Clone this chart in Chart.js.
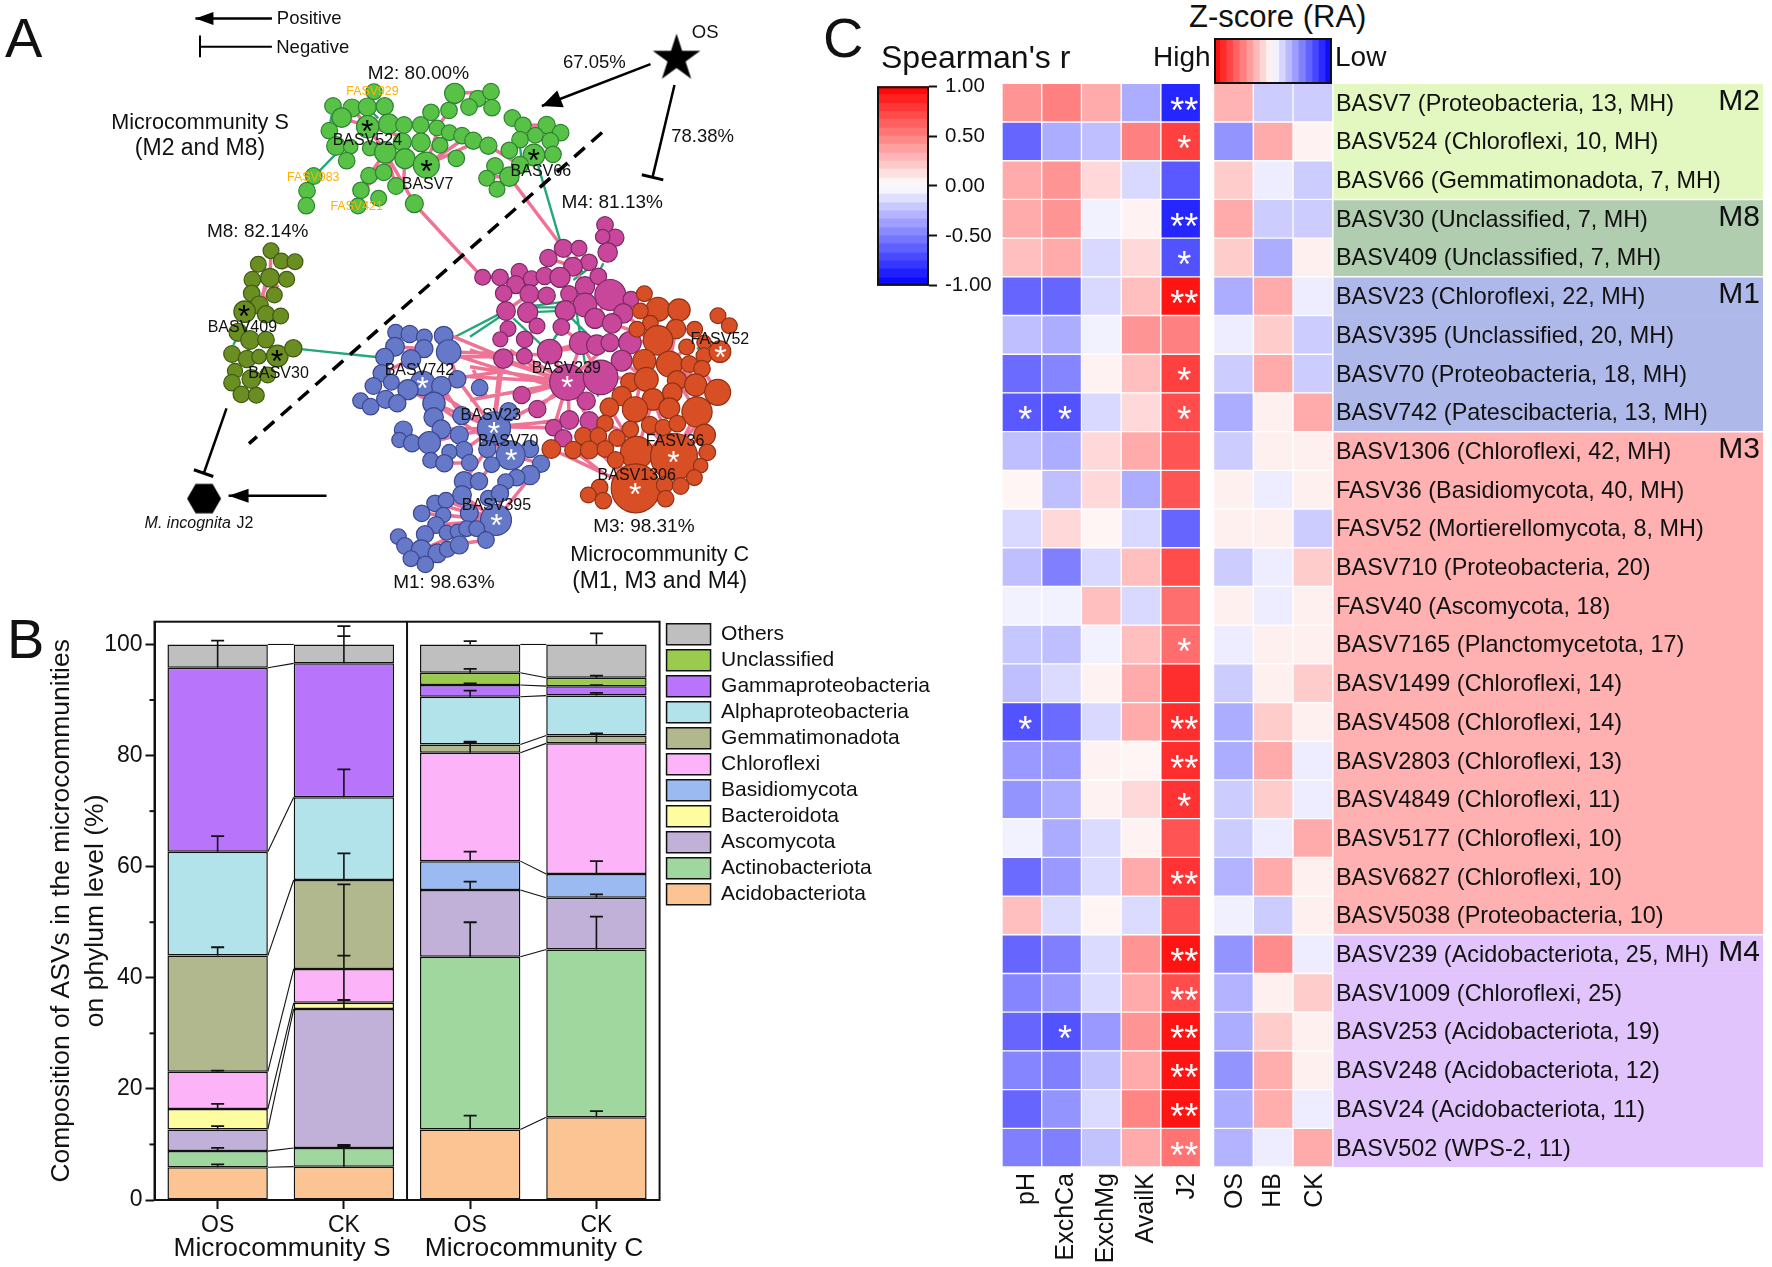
<!DOCTYPE html>
<html lang="en">
<head>
<meta charset="UTF-8">
<title>Microcommunities network, composition and heatmap</title>
<script src="https://cdn.jsdelivr.net/npm/chart.js"></script>
<style>
  html, body { margin: 0; padding: 0; background: #fff; }
  #page { position: relative; width: 1772px; height: 1267px; overflow: hidden; font-family: "Liberation Sans", Arial, sans-serif; color: #111; }
  #page canvas { position: absolute; }
  .txt { position: absolute; line-height: 1; white-space: nowrap; }
</style>
</head>
<body>
<div id="page">
  <canvas id="netChart" width="800" height="620" style="left:0px;top:0px"></canvas>
  <canvas id="barChart" width="950" height="667" style="left:0px;top:600px"></canvas>
  <canvas id="heatChart" width="761" height="1187" style="left:1002px;top:80px"></canvas>
  <canvas id="rBar" width="130" height="240" style="left:877px;top:66px"></canvas>
  <canvas id="zBar" width="118" height="46" style="left:1214px;top:38px"></canvas>
  <div class="txt" style="left:5px;top:10px;font-size:56px">A</div>
  <div class="txt" style="left:7px;top:611px;font-size:56px">B</div>
  <div class="txt" style="left:823px;top:10px;font-size:56px">C</div>
  <div class="txt" style="left:881px;top:41px;font-size:32px">Spearman's r</div>
  <div class="txt" style="left:1189px;top:1px;font-size:31px">Z-score (RA)</div>
  <div class="txt" style="left:1153px;top:43px;font-size:28px">High</div>
  <div class="txt" style="left:1335px;top:43px;font-size:28px">Low</div>
</div>

<script>
Chart.defaults.font.family = '"Liberation Sans", Arial, sans-serif';
Chart.defaults.color = '#111';
Chart.defaults.animation = false;
Chart.defaults.plugins.tooltip.enabled = false;

// ---- panel B data
const barIds = ['S-OS', 'S-CK', 'C-OS', 'C-CK'];
const barLabels = ['OS', 'CK', 'OS', 'CK'];
const others = [4.2, 3.4, 5.1, 6.0];
const unclassified = [0, 0, 2.2, 1.5];
const gamma = [33.1, 24.1, 2.1, 1.7];
const alpha = [18.7, 14.9, 8.6, 7.2];
const gemma = [20.9, 16.0, 1.5, 1.4];
const chloroflexi = [6.7, 6.1, 19.5, 23.5];
const basidio = [0, 0, 5.2, 4.3];
const bacteroid = [3.7, 1.1, 0, 0];
const ascomycota = [3.9, 25.05, 12.0, 9.3];
const actino = [2.9, 3.35, 31.1, 30.2];
const acido = [5.9, 6.0, 12.7, 14.9];
// whiskers per bar: [from, to]
const whiskers = [
  [[5.9, 6.4], [8.8, 9.4], [12.7, 13.3], [16.4, 17.3], [23.1, 23.3], [44, 45.5], [62.7, 65.5], [95.8, 100.7]],
  [[6, 9.9], [9.35, 9.7], [34.4, 36], [35.5, 44], [41.6, 56.8], [57.6, 62.4], [72.5, 77.5], [96.6, 101.5], [96.6, 103.3]],
  [[12.7, 15.2], [43.8, 50], [55.8, 57.3], [61, 62.7], [80.5, 82.3], [82, 82.5], [90.6, 91.7], [92.7, 93], [94.9, 95.6], [100, 100.6]],
  [[14.9, 16], [45.1, 51], [54.4, 55], [58.7, 61], [82.2, 84], [90.8, 91.3], [92.5, 92.7], [94, 94.4], [100, 102]]
];

// ---- panel C data
const rowNames = ['BASV7 (Proteobacteria, 13, MH)', 'BASV524 (Chloroflexi, 10, MH)', 'BASV66 (Gemmatimonadota, 7, MH)',
  'BASV30 (Unclassified, 7, MH)', 'BASV409 (Unclassified, 7, MH)', 'BASV23 (Chloroflexi, 22, MH)',
  'BASV395 (Unclassified, 20, MH)', 'BASV70 (Proteobacteria, 18, MH)', 'BASV742 (Patescibacteria, 13, MH)',
  'BASV1306 (Chloroflexi, 42, MH)', 'FASV36 (Basidiomycota, 40, MH)', 'FASV52 (Mortierellomycota, 8, MH)',
  'BASV710 (Proteobacteria, 20)', 'FASV40 (Ascomycota, 18)', 'BASV7165 (Planctomycetota, 17)',
  'BASV1499 (Chloroflexi, 14)', 'BASV4508 (Chloroflexi, 14)', 'BASV2803 (Chloroflexi, 13)',
  'BASV4849 (Chloroflexi, 11)', 'BASV5177 (Chloroflexi, 10)', 'BASV6827 (Chloroflexi, 10)',
  'BASV5038 (Proteobacteria, 10)', 'BASV239 (Acidobacteriota, 25, MH)', 'BASV1009 (Chloroflexi, 25)',
  'BASV253 (Acidobacteriota, 19)', 'BASV248 (Acidobacteriota, 12)', 'BASV24 (Acidobacteriota, 11)', 'BASV502 (WPS-2, 11)'];
const pH = [.42, -.6, .33, .33, .25, -.6, -.25, -.58, -.65, -.25, .04, -.15, -.25, -.05, -.22, -.25, -.68, -.4, -.42, -.05, -.58, .25, -.6, -.48, -.6, -.48, -.6, -.5];
const exchCa = [.5, -.32, .42, .42, .33, -.6, -.32, -.48, -.68, -.32, -.25, .15, -.5, -.05, -.25, -.14, -.58, -.4, -.33, -.33, -.4, -.14, -.5, -.4, -.68, -.5, -.42, -.5];
const exchMg = [.33, -.25, .15, -.05, -.15, -.15, -.05, .05, -.15, .15, .15, .04, -.15, .25, -.05, .05, -.15, .05, .05, -.14, -.14, .04, -.14, -.14, -.4, -.24, -.14, -.24];
const availK = [-.32, .5, -.15, .05, .15, .25, .42, .25, .15, .33, -.32, -.15, .25, -.15, .25, .33, .33, .04, .15, .05, .33, -.14, .42, .33, .42, .33, .48, .33];
const j2 = [-.85, .75, -.65, -.85, -.68, .92, .5, .75, .7, .67, .67, -.6, .7, .57, .57, .82, .82, .82, .8, .67, .8, .67, .92, .7, .92, .92, .92, .55];
const zOS = [.3, -.42, .2, .33, .2, -.32, -.07, -.2, -.32, -.2, .06, .06, -.2, .06, -.07, -.2, -.32, -.32, -.2, -.2, -.3, -.06, -.42, -.3, -.32, -.42, -.32, -.3];
const zHB = [-.2, .33, -.07, -.2, -.32, .33, .2, .33, .06, .06, -.07, .06, -.07, -.07, .06, .06, .2, .33, .2, -.07, .33, -.2, .45, .06, .2, .32, .32, -.07];
const zCK = [-.2, .05, -.2, -.2, .06, -.07, -.2, -.2, .33, .06, .06, -.2, .2, .06, .06, .2, .06, -.07, -.07, .33, .06, .06, -.07, .2, .06, .06, -.07, .33];
const sigPH = {8: '*', 16: '*'};
const sigCa = {8: '*', 24: '*'};
const sigJ2 = {0: '**', 1: '*', 3: '**', 4: '*', 5: '**', 7: '*', 8: '*', 14: '*', 16: '**', 17: '**', 18: '*', 20: '**', 22: '**', 23: '**', 24: '**', 25: '**', 26: '**', 27: '**'};
const heatCols = ['pH', 'ExchCa', 'ExchMg', 'AvailK', 'J2', 'OS', 'HB', 'CK'];
const modules = [['M2', 0, 3, '#e3f7c0'], ['M8', 3, 5, '#b0cdb0'], ['M1', 5, 9, '#afb9e9'], ['M3', 9, 22, '#ffb0b0'], ['M4', 22, 28, '#e0c4fb']];
const rBreaks = [-1, -.92, -.83, -.75, -.67, -.58, -.5, -.42, -.33, -.25, -.17, -.08, 0, .08, .17, .25, .33, .42, .5, .58, .67, .75, .83, .92, 1];
const zBreaks = [-1, -.89, -.78, -.67, -.56, -.44, -.33, -.22, -.11, 0, .11, .22, .33, .44, .56, .67, .78, .89, 1];

const m2Raw = [[252,35,22],[129,78,23],[186,84,25],[232,81,25],[284,79,24],[155,113,27],[118,152,23],[233,140,31],[296,132,28],[342,135,23],[392,135,23],[423,97,23],[477,91,23],[494,40,28],[563,56,23],[603,35,23],[537,81,23],[606,83,23],[441,144,22],[478,158,22],[516,167,23],[550,182,24],[595,197,24],[393,187,26],[337,186,25],[138,198,26],[182,200,20],[240,205,21],[170,242,23],[286,217,30],[345,236,28],[409,255,36],[450,196,22],[499,235,23],[237,287,23],[281,277,23],[318,318,23],[213,331,23],[266,355,22],[204,378,22],[373,371,25],[71,288,23],[51,332,23],[49,377,23],[667,114,23],[699,136,23],[770,135,24],[812,158,23],[736,166,22],[690,179,23],[781,183,23],[658,211,23],[732,225,30],[789,223,23],[690,255,24],[615,258,23],[590,295,22],[658,290,27],[621,328,22]];
const m2Pink = [[286,217,373,371],[286,217,318,318],[345,236,409,255],[345,236,340,320],[409,255,516,180],[409,255,550,190],[409,255,440,160],[409,255,393,187],[286,217,233,140],[337,186,286,217],[233,140,340,170],[237,287,286,217],[213,331,281,277],[494,40,603,35],[563,56,537,81],[595,197,690,255],[700,136,770,135],[612,290,658,290],[690,255,732,225],[155,113,233,140],[129,78,155,113],[186,84,233,140],[478,91,441,144]];
const m2Green = [[690,200,695,240],[125,105,120,135],[250,100,265,115]];
const m8Raw = [[183,47,22],[145,88,22],[214,78,22],[255,80,22],[127,134,23],[180,128,26],[230,133,22],[125,175,23],[193,180,22],[148,210,25],[104,230,30],[168,238,24],[212,243,22],[84,292,25],[120,315,26],[168,314,23],[66,357,23],[111,372,24],[147,365,20],[202,363,30],[250,340,24],[75,408,21],[124,432,26],[66,443,23],[173,420,22],[94,478,23],[139,481,22]];
const m8Pink = [[180,128,150,195],[165,150,155,200],[183,47,180,128],[214,100,240,90],[205,150,165,190],[170,315,202,363],[100,430,124,432]];
const m8Green = [[70,330,80,310],[110,350,118,340]];
const m4Raw = [[405,15,23],[436,53,24],[398,50,20],[413,97,27],[280,85,25],[327,85,22],[235,114,24],[357,127,23],[309,140,26],[38,172,22],[90,172,23],[148,155,23],[184,176,22],[137,194,25],[224,168,24],[270,172,28],[345,199,27],[385,169,23],[421,225,43],[101,220,23],[178,222,26],[230,227,24],[297,222,23],[345,255,33],[483,238,22],[108,273,26],[173,277,28],[286,272,28],[375,295,28],[460,280,27],[426,310,27],[114,326,22],[201,318,22],[274,321,23],[91,358,21],[164,358,23],[333,369,32],[380,375,28],[420,368,25],[480,368,31],[239,395,34],[100,416,27],[163,409,22],[455,422,29],[293,487,50],[392,472,48],[155,525,24],[349,543,25],[202,567,24],[298,600,26],[358,603,26],[251,623,23],[280,655,24]];
const m3Raw = [[523,221,22],[564,268,33],[627,270,31],[511,273,22],[541,310,22],[501,328,22],[618,327,27],[564,361,41],[674,328,22],[744,287,22],[778,317,22],[650,381,22],[702,367,20],[702,407,22],[750,395,30],[523,423,32],[598,432,36],[658,432,23],[696,446,23],[480,487,26],[529,478,33],[621,481,27],[677,495,31],[743,517,36],[455,528,27],[549,538,30],[607,518,27],[418,562,26],[495,568,35],[598,565,29],[681,576,42],[405,610,23],[481,628,23],[540,615,24],[580,623,23],[622,611,23],[704,645,30],[340,648,24],[385,648,23],[441,654,23],[244,687,26],[310,690,24],[358,690,25],[406,687,23],[500,698,45],[612,710,65],[437,720,23],[712,697,23],[692,737,20],[673,773,22],[497,805,68],[584,795,23],[632,798,23],[587,836,23],[389,802,23],[355,825,22],[400,842,23]];
const coreGreen = [[0,350,90,290],[173,260,286,245],[200,262,280,262],[173,277,286,272],[130,295,215,375],[300,290,350,340],[320,280,345,430],[345,430,385,530],[250,360,290,300],[310,180,350,150],[400,130,380,170],[340,160,320,130],[680,385,700,385],[720,420,700,440]];
const corePink = [[293,487,0,390],[293,487,0,440],[293,487,0,470],[293,487,155,525],[293,487,202,567],[293,487,0,540],[100,416,293,487],[163,409,293,487],[90,430,80,520],[239,395,293,487],[333,369,293,487],[420,368,293,487],[455,422,392,472],[480,368,392,472],[298,600,293,487],[358,603,293,487],[251,623,293,487],[349,543,293,487],[75,620,270,520],[75,620,298,600],[75,620,251,623],[244,687,497,805],[310,690,400,760],[212,730,150,810],
  [564,361,523,423],[564,361,598,432],[598,432,677,495],[598,432,743,517],[523,423,495,568],[529,478,612,710],[495,568,612,710],[681,576,612,710],[743,517,612,710],[677,495,681,576],[621,481,681,576],[549,538,500,698],[418,562,500,698],[495,568,497,805],[500,698,497,805],[612,710,497,805],[456,528,612,710],[405,610,612,710],[481,628,500,698],[455,422,529,478],[392,472,495,568],[392,472,529,478],[480,368,564,361],[426,310,564,361],[460,280,564,361],[627,270,564,361],[618,327,598,432],[627,270,598,432],[743,517,598,432],[704,645,612,710],[712,697,612,710],[673,773,612,710],[692,737,612,710],[704,645,681,576],[340,648,497,805],[385,648,500,698],[441,654,612,710],[437,720,497,805],[358,690,437,720],[406,687,497,805],[650,381,598,432],[658,432,681,576],[696,446,743,517],[658,432,598,432],[523,423,480,487],
  [280,85,309,140],[327,85,309,140],[235,114,309,140],[309,140,345,199],[345,255,286,272],[345,255,421,225],[375,295,421,225],[460,280,421,225],[345,255,375,295],[270,172,297,222],[178,222,230,227],[108,273,178,222],[90,172,137,194],[38,172,90,172],[137,194,224,168],[270,172,224,168],[100,220,108,273],[108,273,114,326],[114,326,91,358],[164,358,201,318],[274,321,333,369],[333,369,380,375],[380,375,420,368],[420,368,480,368],[239,395,333,369],[239,395,380,375],[333,369,392,472]];
const m1Raw = [[167,97,22],[209,102,24],[253,111,22],[311,107,26],[165,140,26],[252,146,25],[326,156,34],[134,172,25],[213,178,27],[125,220,24],[248,250,34],[352,238,24],[100,258,23],[154,247,22],[204,269,28],[304,258,27],[419,263,23],[62,302,22],[92,320,23],[137,298,25],[172,310,24],[282,310,31],[281,352,27],[365,347,25],[190,390,25],[304,388,26],[462,385,46],[506,335,25],[178,420,21],[216,430,24],[268,428,31],[358,405,25],[442,447,24],[570,447,24],[372,450,24],[328,456,21],[512,466,40],[272,481,22],[313,490,24],[389,488,23],[455,494,22],[603,491,24],[570,525,27],[530,533,23],[497,545,22],[372,544,27],[417,544,24],[366,585,26],[445,595,22],[480,580,24],[285,610,23],[318,601,22],[388,640,25],[245,640,23],[310,645,21],[468,660,43],[288,675,23],[255,703,24],[175,710,22],[320,698,21],[352,694,20],[380,686,22],[410,686,22],[438,720,23],[195,738,23],[244,750,28],[292,760,26],[322,748,22],[358,735,25],[213,776,22],[256,793,23]];
const m1Pink = [[340,110,490,172],[326,156,625,165],[350,170,490,170],[360,170,640,260],[350,235,480,215],[480,215,465,330],[400,210,440,290],[490,172,462,385],[510,150,650,250],[352,238,462,385],[248,250,462,385],[282,310,462,385],[282,310,512,466],[248,250,282,310],[304,388,462,385],[358,405,462,385],[268,428,358,405],[268,428,216,430],[216,430,178,420],[313,490,389,488],[372,450,462,385],[372,450,389,488],[462,385,660,360],[442,447,372,544],[417,544,455,494],[603,491,468,660],[497,545,468,660],[388,640,468,660],[366,585,468,660],[318,601,468,660],[285,610,468,660],[310,645,468,660],[288,675,468,660],[245,640,468,660],[255,703,468,660],[244,750,358,700],[292,760,410,686],[244,750,438,720],[372,544,366,585],[204,269,248,250],[125,220,213,178],[165,140,252,146],[167,97,209,102],[311,107,326,156],[62,302,92,320],[137,298,172,310],[204,269,282,310],[326,156,352,238],[304,258,365,347],[462,385,512,466],[512,466,603,491]];
// long links between modules, in whole-panel units
const linkPink = [[812,516,946,702],[998,447,1104,628]];
const linkGreen = [[575,881,737,903],[1055,420,1098,610],[880,860,985,790],[615,447,658,390]];
const hubsDark = [[720,320],[836,420],[1046,393],[478,788],[543,902]];
const hubsLight = [[828,968],[1112,967],[1412,890],[968,1084],[1002,1152],[973,1315],[1320,1155],[1245,1238]];
const starMark = [[1326, 148]];
const hexMark = [[400, 1261]];

// crop origin in page pixels -> whole-panel units (panel spans 0..1568 on both axes)
const panelX = 1568 / 800, panelY = 1568 / 620;
const m2At = [290, 80], m8At = [210, 235], coreAt = [470, 220], m1At = [340, 300];
const toNode = (arr, at) => arr.map(n => ({x: (at[0] + n[0] / 3) * panelX, y: (at[1] + n[1] / 3) * panelY, r: n[2] / 3 * 1.08}));
const toSegsAt = (arr, at) => arr.flatMap(e => [
  {x: (at[0] + e[0] / 3) * panelX, y: (at[1] + e[1] / 3) * panelY},
  {x: (at[0] + e[2] / 3) * panelX, y: (at[1] + e[3] / 3) * panelY},
  {x: NaN, y: NaN}]);
const toSegs = arr => arr.flatMap(e => [{x: e[0], y: e[1]}, {x: e[2], y: e[3]}, {x: NaN, y: NaN}]);

function polyMarker(points, outer, inner, rot) {
  const c = document.createElement('canvas');
  c.width = c.height = outer * 2 + 2;
  const g = c.getContext('2d');
  g.translate(outer + 1, outer + 1);
  g.beginPath();
  const n = inner ? points * 2 : points;
  for (let i = 0; i < n; i++) {
    const a = rot + i * Math.PI * 2 / n;
    const r = inner && i % 2 ? inner : outer;
    g.lineTo(r * Math.cos(a), r * Math.sin(a));
  }
  g.closePath();
  g.fillStyle = '#000';
  g.fill();
  return c;
}

const netText = [
  ['Positive', 606, 48, 18.5], ['Negative', 613, 120, 18.5], ['OS', 1382, 84, 18.5],
  ['67.05%', 1165, 158, 18.5], ['78.38%', 1377, 345, 18.5],
  ['M2: 80.00%', 820, 186, 19], ['M4: 81.13%', 1200, 513, 19], ['M8: 82.14%', 505, 585, 19],
  ['M3: 98.31%', 1262, 1333, 19], ['M1: 98.63%', 870, 1474, 19],
  ['Microcommunity S', 392, 310, 21.6], ['(M2 and M8)', 392, 375, 23],
  ['Microcommunity C', 1293, 1404, 21.6], ['(M1, M3 and M4)', 1293, 1470, 23],
  ['BASV524', 720, 355, 16], ['BASV7', 838, 467, 16], ['BASV66', 1060, 435, 16], ['BASV409', 475, 828, 16],
  ['BASV30', 546, 945, 16], ['BASV742', 822, 938, 16], ['BASV239', 1110, 933, 16], ['FASV52', 1411, 858, 16],
  ['BASV23', 962, 1050, 16], ['BASV70', 996, 1116, 16], ['BASV395', 973, 1278, 16], ['FASV36', 1323, 1116, 16],
  ['BASV1306', 1248, 1203, 16],
  ['FASV929', 730, 232, 12.4, '#ffb000'], ['FASV983', 614, 448, 12.4, '#ffb000'], ['FASV421', 699, 522, 12.4, '#ffb000']
];

const netPlugin = {
  id: 'netMarks',
  afterDatasetsDraw(chart) {
    const g = chart.ctx, X = chart.scales.x, Y = chart.scales.y;
    const px = v => X.getPixelForValue(v), py = v => Y.getPixelForValue(v);
    g.save();
    g.strokeStyle = '#000';
    g.fillStyle = '#000';

    function shaft(a, b, c, d, lw) {
      g.lineWidth = lw;
      g.beginPath(); g.moveTo(px(a), py(b)); g.lineTo(px(c), py(d)); g.stroke();
    }
    function arrow(a, b, c, d, len, half) {
      const x1 = px(a), y1 = py(b), x2 = px(c), y2 = py(d);
      const t = Math.atan2(y2 - y1, x2 - x1);
      shaft(a, b, c, d, 2.5);
      g.beginPath();
      g.moveTo(x2, y2);
      g.lineTo(x2 - len * Math.cos(t) + half * Math.sin(t), y2 - len * Math.sin(t) - half * Math.cos(t));
      g.lineTo(x2 - len * Math.cos(t) - half * Math.sin(t), y2 - len * Math.sin(t) + half * Math.cos(t));
      g.closePath(); g.fill();
    }
    arrow(533, 47, 383, 47, 18, 6.5);
    shaft(533, 118, 392, 118, 2); shaft(392, 90, 392, 145, 2);
    arrow(1275, 162, 1062, 268, 20, 9);
    shaft(1322, 215, 1279, 448, 2.5); shaft(1258, 442, 1300, 455, 3);
    shaft(444, 1033, 400, 1195, 2.5); shaft(380, 1188, 418, 1205, 3);
    arrow(640, 1254, 448, 1254, 20, 7);

    g.setLineDash([14, 9]);
    shaft(1180, 335, 488, 1122, 3.5);
    g.setLineDash([]);

    g.textAlign = 'center';
    g.textBaseline = 'middle';
    g.font = '32px "Liberation Sans"';
    hubsDark.forEach(h => g.fillText('*', px(h[0]), py(h[1]) + 7));
    g.fillStyle = '#fff';
    hubsLight.forEach(h => g.fillText('*', px(h[0]), py(h[1]) + 7));

    g.fillStyle = '#111';
    netText.forEach(t => {
      g.font = t[3] + 'px "Liberation Sans"';
      g.fillStyle = t[4] || '#111';
      g.fillText(t[0], px(t[1]), py(t[2]));
    });
    g.fillStyle = '#111';
    g.font = 'italic 16px "Liberation Sans"';
    g.fillText('M. incognita', px(368), py(1323));
    g.font = '16px "Liberation Sans"';
    g.fillText('J2', px(480), py(1323));
    g.restore();
  }
};

function nodeSet(data, fill, edge) {
  return {type: 'bubble', data, backgroundColor: fill, borderColor: edge, borderWidth: 1.2, order: 1};
}
function edgeSet(data, color, w) {
  return {type: 'scatter', data, showLine: true, spanGaps: false, borderColor: color, borderWidth: w, pointRadius: 0, order: 5};
}
function markSet(arr, style) {
  return {type: 'scatter', data: arr.map(p => ({x: p[0], y: p[1]})), pointStyle: style, pointRadius: 20, order: 0};
}

new Chart(document.getElementById('netChart'), {
  type: 'bubble',
  data: {datasets: [
    nodeSet(toNode(m2Raw, m2At), '#58c247', '#2e8233'),
    nodeSet(toNode(m8Raw, m8At), '#6b8e23', '#3f5a14'),
    nodeSet(toNode(m3Raw, coreAt), '#d94f25', '#8f3216'),
    nodeSet(toNode(m4Raw, coreAt), '#c9479a', '#7a2a66'),
    nodeSet(toNode(m1Raw, m1At), '#6678c8', '#3b4790'),
    edgeSet(toSegsAt(m2Pink, m2At).concat(toSegsAt(m8Pink, m8At), toSegsAt(corePink, coreAt), toSegsAt(m1Pink, m1At), toSegs(linkPink)), '#ef7394', 3.5),
    edgeSet(toSegsAt(m2Green, m2At).concat(toSegsAt(m8Green, m8At), toSegsAt(coreGreen, coreAt), toSegs(linkGreen)), '#25a878', 2.4),
    markSet(starMark, polyMarker(5, 25, 9.5, -Math.PI / 2)),
    markSet(hexMark, polyMarker(6, 17, 0, 0))
  ]},
  options: {
    responsive: false,
    layout: {padding: 0, autoPadding: false},
    plugins: {legend: {display: false}},
    scales: {
      x: {type: 'linear', display: false, min: 0, max: 1568},
      y: {type: 'linear', display: false, min: 0, max: 1568, reverse: true}
    }
  },
  plugins: [netPlugin]
});

// ---- panel B
const stackNames = ['Acidobacteriota', 'Actinobacteriota', 'Ascomycota', 'Bacteroidota', 'Basidiomycota', 'Chloroflexi', 'Gemmatimonadota', 'Alphaproteobacteria', 'Gammaproteobacteria', 'Unclassified', 'Others'];
const stackValues = [acido, actino, ascomycota, bacteroid, basidio, chloroflexi, gemma, alpha, gamma, unclassified, others];
const stackColors = ['#fdc493', '#a0d79f', '#c1b1d8', '#fdfd9f', '#9bbaf2', '#fdb3f8', '#b2b88e', '#b2e3ea', '#b874fb', '#9acb4c', '#bfbfbf'];

const whiskerPts = whiskers.flatMap((list, i) => list.flatMap(w => [{x: barIds[i], y: w[0]}, {x: barIds[i], y: w[1], cap: true}, {x: barIds[i], y: NaN}]));

const barPlugin = {
  id: 'barExtras',
  afterLayout(chart) {
    chart.legend.top -= 3;
    chart.legend.left += 2;
  },
  afterDatasetsDraw(chart) {
    const g = chart.ctx, X = chart.scales.x, Y = chart.scales.y, A = chart.chartArea;
    g.save();
    // connecting lines between the paired bars
    g.strokeStyle = '#111';
    g.lineWidth = 1.1;
    [[0, 1], [2, 3]].forEach(pair => {
      const cum = [0, 0];
      stackValues.forEach((vals, d) => {
        cum[0] += vals[pair[0]]; cum[1] += vals[pair[1]];
        if (!vals[pair[0]] && !vals[pair[1]]) return;
        const m = chart.getDatasetMeta(d);
        const a = m.data[pair[0]], b = m.data[pair[1]];
        g.beginPath();
        g.moveTo(a.x + a.width / 2, Y.getPixelForValue(cum[0]));
        g.lineTo(b.x - b.width / 2, Y.getPixelForValue(cum[1]));
        g.stroke();
      });
    });
    // frame and divider
    g.lineWidth = 2;
    g.strokeRect(A.left, A.top, A.right - A.left, A.bottom - A.top);
    const mid = X.getPixelForValue(1.5);
    g.beginPath(); g.moveTo(mid, A.top); g.lineTo(mid, A.bottom); g.stroke();
    // minor ticks
    [10, 30, 50, 70, 90].forEach(v => {
      const y = Y.getPixelForValue(v);
      g.beginPath(); g.moveTo(A.left, y); g.lineTo(A.left - 5, y); g.stroke();
    });
    g.fillStyle = '#111';
    g.font = '26.4px "Liberation Sans"';
    g.textAlign = 'center';
    g.textBaseline = 'middle';
    g.fillText('Microcommunity S', 282, 1249 - 600);
    g.fillText('Microcommunity C', 534, 1249 - 600);
    g.restore();
  }
};

new Chart(document.getElementById('barChart'), {
  type: 'bar',
  data: {
    labels: barIds,
    datasets: stackNames.map((name, i) => ({
      label: name,
      data: stackValues[i],
      backgroundColor: stackColors[i],
      borderColor: '#111',
      borderWidth: 1.5,
      borderSkipped: false,
      barPercentage: 0.795,
      categoryPercentage: 1,
      order: 2
    })).concat([{
      type: 'line',
      label: 'err',
      data: whiskerPts,
      yAxisID: 'ye',
      showLine: true,
      spanGaps: false,
      borderColor: '#111',
      borderWidth: 1.6,
      pointStyle: 'line',
      pointBorderColor: '#111',
      pointBorderWidth: 1.8,
      pointRadius: c => (c.raw && c.raw.cap ? 6.5 : 0),
      order: 1
    }])
  },
  options: {
    responsive: false,
    layout: {padding: {top: 21.7, right: 12, left: 0, bottom: 0}},
    plugins: {
      legend: {
        position: 'right',
        align: 'start',
        reverse: true,
        maxWidth: 300,
        labels: {
          boxWidth: 44, boxHeight: 21, padding: 5, color: '#111',
          font: {size: 21},
          filter: item => item.text !== 'err'
        }
      }
    },
    scales: {
      x: {
        stacked: true,
        grid: {display: true, drawOnChartArea: false, drawTicks: true, tickLength: 9, tickColor: '#111', tickWidth: 2, offset: false},
        border: {color: '#111', width: 2},
        ticks: {color: '#111', font: {size: 23}, padding: 3, maxRotation: 0, callback: (v, i) => barLabels[i]},
        afterFit: s => { s.height = 67; }
      },
      y: {
        stacked: true,
        min: 0,
        max: 104.1,
        grid: {display: true, drawOnChartArea: false, tickLength: 9, tickColor: '#111', tickWidth: 2},
        border: {color: '#111', width: 2},
        ticks: {color: '#111', stepSize: 20, includeBounds: false, font: {size: 23}, padding: 3},
        title: {
          display: true,
          text: ['Composition of ASVs in the microcommunities', 'on phylum level (%)'],
          font: {size: 26.5, lineHeight: 1.283},
          color: '#111',
          padding: {top: 45, bottom: 0}
        },
        afterFit: s => { s.width = 154.5; }
      },
      ye: {type: 'linear', display: false, min: 0, max: 104.1}
    }
  },
  plugins: [barPlugin]
});

// ---- panel C
function divColor(v) {
  const t = Math.min(1, Math.abs(v));
  const c = Math.round(255 * (1 - t));
  return v >= 0 ? `rgb(255,${c},${c})` : `rgb(${c},${c},255)`;
}
const heatValues = [pH, exchCa, exchMg, availK, j2, zOS, zHB, zCK];
const gapA = 0.327, gapB = 0.03, stripW = 10.8;
const tickCenters = [0.62, 1.62, 2.62, 3.62, 4.66, 5 + gapA + 0.55, 5 + gapA + 1.5, 5 + gapA + 2.55];
const one = rowNames.map(() => 1);

function cellSet(vals) {
  return {
    data: one, barPercentage: 1, categoryPercentage: 1,
    backgroundColor: c => divColor(vals[c.dataIndex]),
    borderColor: 'rgba(255,255,255,.55)', borderWidth: 1, borderSkipped: false
  };
}
function spacer(w) {
  return {data: rowNames.map(() => w), backgroundColor: 'rgba(0,0,0,0)', borderWidth: 0, barPercentage: 1, categoryPercentage: 1};
}
const heatSets = heatValues.slice(0, 5).map(cellSet)
  .concat([spacer(gapA)])
  .concat(heatValues.slice(5).map(cellSet))
  .concat([spacer(gapB)])
  .concat([{
    data: rowNames.map(() => stripW), barPercentage: 1, categoryPercentage: 1,
    backgroundColor: c => modules.find(m => c.dataIndex >= m[1] && c.dataIndex < m[2])[3],
    borderWidth: 0
  }]);
const stripIndex = heatSets.length - 1;

const heatPlugin = {
  id: 'heatText',
  afterDatasetsDraw(chart) {
    const g = chart.ctx, Y = chart.scales.y;
    const stripLeft = chart.scales.x.getPixelForValue(5 + gapA + 3 + gapB);
    g.save();
    // white hairlines between the module strips
    g.strokeStyle = '#fff';
    g.lineWidth = 1.5;
    modules.forEach(m => {
      const e = chart.getDatasetMeta(stripIndex).data[m[1]];
      const y = e.y - e.height / 2;
      g.beginPath(); g.moveTo(stripLeft, y); g.lineTo(chart.chartArea.right, y); g.stroke();
    });
    g.fillStyle = '#111';
    g.textBaseline = 'middle';
    g.textAlign = 'left';
    g.font = '23.4px "Liberation Sans"';
    rowNames.forEach((name, i) => g.fillText(name, stripLeft + 2, Y.getPixelForValue(i) + 1.5));
    g.font = '30px "Liberation Sans"';
    g.textAlign = 'right';
    modules.forEach(m => g.fillText(m[0], chart.chartArea.right - 3, Y.getPixelForValue(m[1]) - 1));
    g.fillStyle = '#fff';
    g.textAlign = 'center';
    g.font = '36px "Liberation Sans"';
    [[sigPH, 0], [sigCa, 1], [sigJ2, 4]].forEach(([sig, col]) => {
      Object.keys(sig).forEach(k => {
        const el = chart.getDatasetMeta(col).data[+k];
        g.fillText(sig[k], (el.base + el.x) / 2 + 3.5, Y.getPixelForValue(+k) + 10);
      });
    });
    g.restore();
  }
};

new Chart(document.getElementById('heatChart'), {
  type: 'bar',
  data: {labels: rowNames, datasets: heatSets},
  options: {
    responsive: false,
    indexAxis: 'y',
    layout: {padding: {top: 3.3, left: 0, right: 0, bottom: 0}},
    plugins: {legend: {display: false}},
    scales: {
      y: {stacked: true, display: false},
      x: {
        stacked: true, min: 0, max: 19.16,
        border: {display: false},
        grid: {display: false, drawTicks: false},
        afterBuildTicks: s => { s.ticks = tickCenters.map(v => ({value: v})); },
        afterFit: s => { s.height = 100; },
        ticks: {
          autoSkip: false, minRotation: 90, maxRotation: 90, padding: 6, color: '#111',
          font: {size: 25},
          callback: (v, i) => heatCols[i]
        }
      }
    }
  },
  plugins: [heatPlugin]
});

const framePlugin = {
  id: 'frame',
  afterDraw(chart) {
    const g = chart.ctx, A = chart.chartArea;
    g.save();
    g.strokeStyle = '#111';
    g.lineWidth = 2;
    g.strokeRect(A.left + 1, A.top + 1, A.right - A.left - 2, A.bottom - A.top - 2);
    g.restore();
  }
};
function bandSets(breaks) {
  return breaks.slice(0, -1).map((b, i) => ({
    data: [[b, breaks[i + 1]]],
    backgroundColor: divColor((b + breaks[i + 1]) / 2),
    grouped: false, barPercentage: 1, categoryPercentage: 1, borderWidth: 0
  }));
}

new Chart(document.getElementById('rBar'), {
  type: 'bar',
  data: {labels: ['r'], datasets: bandSets(rBreaks)},
  options: {
    responsive: false,
    layout: {padding: {top: 20, bottom: 0, left: 0, right: 0}},
    plugins: {legend: {display: false}},
    scales: {
      x: {display: false},
      y: {
        position: 'right', min: -1, max: 1,
        border: {display: false},
        grid: {display: true, drawOnChartArea: false, tickLength: 8, tickColor: '#111', tickWidth: 2},
        ticks: {stepSize: 0.5, color: '#111', font: {size: 20.5}, padding: 8, callback: v => v.toFixed(2)},
        afterFit: s => { s.width = 78; }
      }
    }
  },
  plugins: [framePlugin]
});

new Chart(document.getElementById('zBar'), {
  type: 'bar',
  data: {labels: ['z'], datasets: bandSets(zBreaks)},
  options: {
    responsive: false,
    indexAxis: 'y',
    layout: {padding: 0},
    plugins: {legend: {display: false}},
    scales: {
      y: {display: false},
      x: {display: false, min: -1, max: 1, reverse: true}
    }
  },
  plugins: [framePlugin]
});
</script>
</body>
</html>
